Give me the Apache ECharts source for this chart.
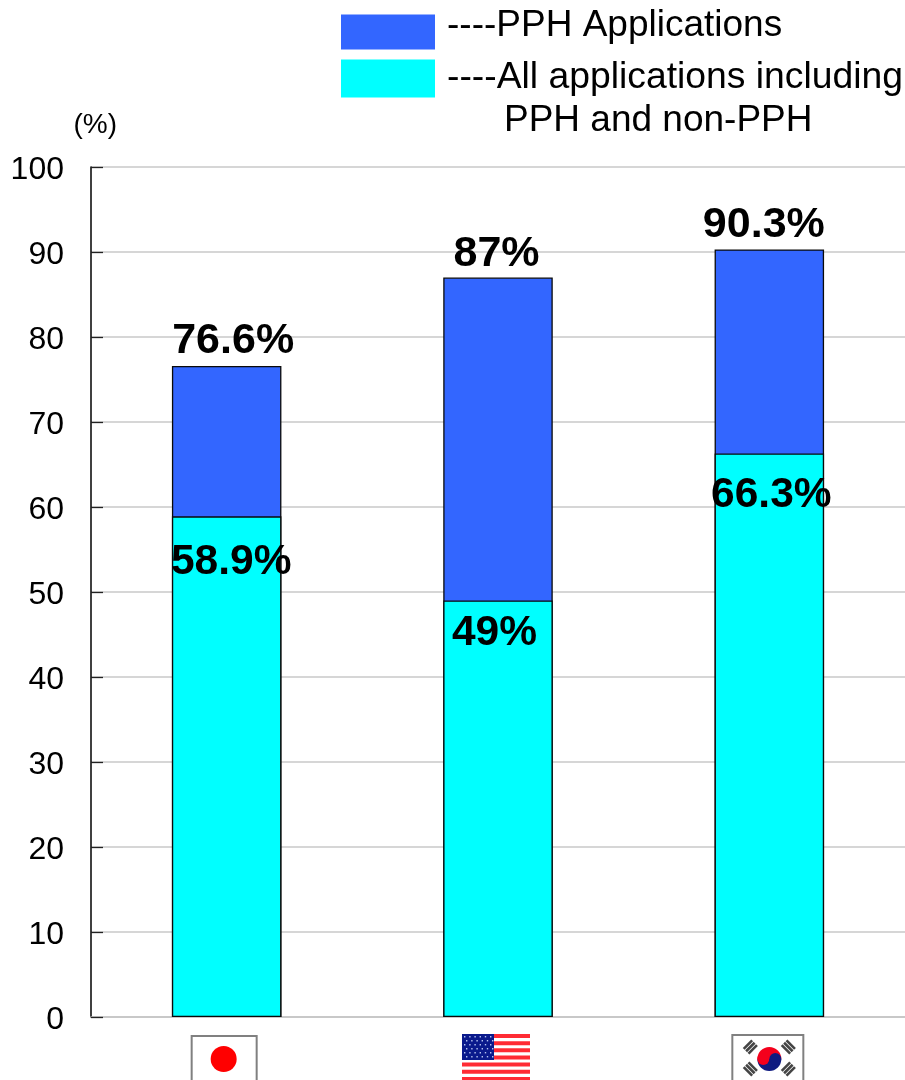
<!DOCTYPE html>
<html><head><meta charset="utf-8">
<style>html,body{margin:0;padding:0;background:#fff}#c{width:905px;height:1080px}</style>
<script src="https://cdn.jsdelivr.net/npm/echarts@6/dist/echarts.min.js"></script>
</head><body><div id="c"></div>
<script>
const countries = ['Japan', 'USA', 'Korea'];
const pphApplications = [76.6, 87, 90.3];
const allApplications = [58.9, 49, 66.3];
const yTicks = [0, 10, 20, 30, 40, 50, 60, 70, 80, 90, 100];
const pphName = '----PPH Applications';
const allName = '----All applications including';
const allName2 = 'PPH and non-PPH';
const FONT = '"Liberation Sans", Arial, sans-serif';
// label nudges, as placed by hand in the original figure
const pphLabelShift = [[6.5, 0], [-1.5, 1], [-5.5, 0]];
const allLabelShift = [[4.5, 4], [-3.5, -9], [2, 0]];

const chart = echarts.init(document.getElementById('c'), null, {renderer: 'canvas'});
const txt = {fontFamily: FONT, color: '#000'};
const barBase = {type: 'bar', barWidth: 109.5, barGap: '-100%', animation: false,
  itemStyle: {borderColor: '#0a0a0a', borderWidth: 1.3}};
const withShift = (vals, shifts) => vals.map((v, i) => ({value: v, label: {offset: shifts[i]}}));
chart.setOption({
  backgroundColor: '#fff',
  animation: false,
  legend: [
    {data: [pphName], icon: 'rect', left: 341, top: 7.5, itemWidth: 94, itemHeight: 35, itemGap: 0, padding: 0,
     itemStyle: {borderWidth: 0}, formatter: '{a|{name}}',
     textStyle: {...txt, fontSize: 37, rich: {a: {fontFamily: FONT, fontSize: 37, color: '#000', padding: [0, 0, 12, 7]}}}, selectedMode: false},
    {data: [allName], icon: 'rect', left: 341, top: 59, itemWidth: 94, itemHeight: 38, itemGap: 0, padding: 0,
     itemStyle: {borderWidth: 0}, formatter: '{a|{name}}',
     textStyle: {...txt, fontSize: 37.3, rich: {a: {fontFamily: FONT, fontSize: 37.3, color: '#000', padding: [0, 0, 2, 7]}}}, selectedMode: false}
  ],
  grid: {left: 91, right: 0, top: 167, bottom: 63},
  xAxis: {type: 'category', data: countries,
    axisLine: {lineStyle: {color: '#c4c4c4', width: 1.5}}, axisTick: {show: false}, axisLabel: {show: false}},
  yAxis: {type: 'value', min: 0, max: 100, interval: 10,
    name: '(%)', nameLocation: 'end', nameGap: 28,
    nameTextStyle: {...txt, fontSize: 28, align: 'right', padding: [0, -26, 0, 0]},
    axisLine: {show: true, lineStyle: {color: '#000', width: 1.5}},
    axisTick: {show: true, inside: true, length: 12, lineStyle: {color: '#222', width: 1.3}},
    axisLabel: {...txt, fontSize: 32, margin: 27, customValues: yTicks, formatter: '{t|{value}}',
      rich: {t: {fontFamily: FONT, fontSize: 32, color: '#000', padding: [6, 0, 0, 0]}}},
    splitLine: {show: true, lineStyle: {color: '#c8c8c8', width: 1.5}}},
  series: [
    {...barBase, name: pphName, data: withShift(pphApplications, pphLabelShift), color: '#3366ff', z: 2,
     label: {show: true, position: 'top', distance: 3, fontFamily: FONT, fontSize: 43, fontWeight: 'bold', color: '#000', formatter: p => p.value + '%'}},
    {...barBase, name: allName, data: withShift(allApplications, allLabelShift), color: '#00ffff', z: 3,
     label: {show: true, position: 'insideTop', distance: 20, fontFamily: FONT, fontSize: 42.5, fontWeight: 'bold', color: '#000', formatter: p => p.value + '%'}}
  ]
});

function flags() {
  const cx = countries.map((c) => chart.convertToPixel({xAxisIndex: 0}, c));
  const gray = {stroke: '#808080', lineWidth: 2, fill: '#fff'};
  const els = [{type: 'text', style: {x: 504, y: 102, text: allName2, font: '37px ' + FONT, fill: '#000'}}];
  // Japan
  els.push({type: 'rect', shape: {x: cx[0] - 35, y: 1036, width: 65, height: 60}, style: gray});
  els.push({type: 'circle', shape: {cx: cx[0] - 3, cy: 1059, r: 13}, style: {fill: '#ff0000'}});
  // USA
  const ux = cx[1] - 36;
  for (let i = 0; i < 7; i++) els.push({type: 'rect', shape: {x: ux, y: 1034 + i * 7.15, width: 68, height: 4}, style: {fill: '#ff2b34'}});
  els.push({type: 'rect', shape: {x: ux, y: 1034, width: 32, height: 26}, style: {fill: '#0a1a8c'}});
  for (let r = 0; r < 6; r++) for (let c = 0; c < 6; c++)
    els.push({type: 'rect', shape: {x: ux + 2 + c * 5.2 + (r % 2) * 2, y: 1036 + r * 4, width: 1.4, height: 1.4}, style: {fill: '#b4c2ef'}});
  // Korea
  const kx = cx[2];
  els.push({type: 'rect', shape: {x: kx - 37, y: 1035, width: 71, height: 60}, style: gray});
  els.push({type: 'sector', shape: {cx: kx, cy: 1059, r: 12, startAngle: Math.PI, endAngle: 2 * Math.PI}, style: {fill: '#f4001c'}});
  els.push({type: 'sector', shape: {cx: kx, cy: 1059, r: 12, startAngle: 0, endAngle: Math.PI}, style: {fill: '#0f1a80'}});
  els.push({type: 'circle', shape: {cx: kx - 6, cy: 1059, r: 6}, style: {fill: '#f4001c'}});
  els.push({type: 'circle', shape: {cx: kx + 6, cy: 1059, r: 6}, style: {fill: '#0f1a80'}});
  [[-19, -12, -1], [19, -12, 1], [-19, 10, 1], [19, 10, -1]].forEach(([dx, dy, s]) => {
    for (let k = -1; k <= 1; k++) {
      els.push({type: 'rect', x: kx + dx, y: 1059 + dy, rotation: s * Math.PI / 4,
        shape: {x: k * 3.4 - 1.3, y: -6, width: 2.6, height: 12}, style: {fill: '#444'}});
    }
  });
  chart.setOption({graphic: els.map(e => ({...e, silent: true}))});
}
flags();
</script></body></html>
